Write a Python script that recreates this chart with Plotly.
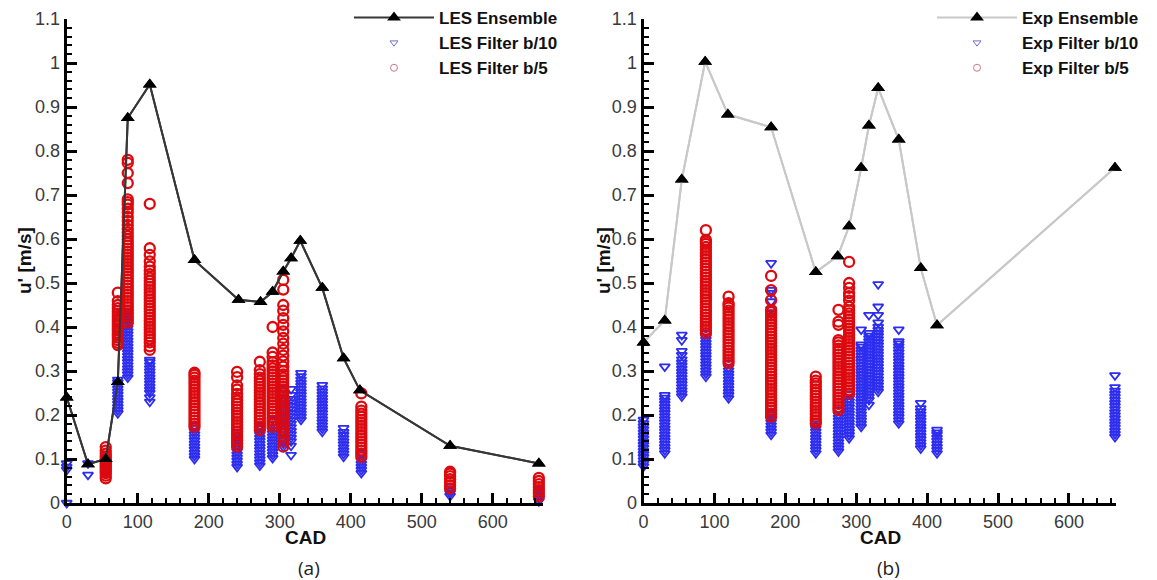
import plotly.graph_objects as go

# ---------------- data ----------------
les_ens_x = [0, 30, 55, 72, 86, 117, 180, 242, 273, 290, 305, 316, 329, 360, 390, 413, 540, 665]
les_ens_y = [0.24, 0.088, 0.10, 0.275, 0.875, 0.951, 0.552, 0.462, 0.457, 0.48, 0.526, 0.556, 0.596,
             0.489, 0.329, 0.256, 0.13, 0.09]

exp_ens_x = [0, 30, 54, 87, 119, 180, 243, 274, 290, 307, 318, 331, 360, 391, 414, 665]
exp_ens_y = [0.365, 0.415, 0.735, 1.003, 0.883, 0.854, 0.525, 0.561, 0.629, 0.762, 0.858, 0.943,
             0.826, 0.534, 0.404, 0.762]

les_b5_x = [55, 72, 86, 117, 180, 240, 272, 290, 305, 415, 540, 665]
les_b5_y = [
    [0.056, 0.062, 0.068, 0.072, 0.077, 0.081, 0.085, 0.089, 0.093, 0.097, 0.101, 0.106, 0.112, 0.119, 0.127],
    [0.359, 0.364, 0.370, 0.376, 0.381, 0.386, 0.392, 0.397, 0.402, 0.408, 0.413, 0.418, 0.424, 0.430,
     0.436, 0.443, 0.450, 0.459, 0.478],
    [0.410, 0.417, 0.424, 0.431, 0.438, 0.445, 0.452, 0.459, 0.466, 0.473, 0.480, 0.487, 0.494, 0.501,
     0.508, 0.515, 0.522, 0.529, 0.536, 0.543, 0.550, 0.557, 0.564, 0.571, 0.578, 0.585, 0.592, 0.599,
     0.607, 0.615, 0.623, 0.632, 0.641, 0.650, 0.660, 0.669, 0.678, 0.684, 0.690, 0.727, 0.750, 0.773, 0.780],
    [0.348, 0.356, 0.365, 0.372, 0.379, 0.386, 0.393, 0.400, 0.407, 0.414, 0.421, 0.428, 0.435, 0.442,
     0.449, 0.456, 0.463, 0.470, 0.477, 0.484, 0.491, 0.498, 0.505, 0.512, 0.520, 0.528, 0.537, 0.549,
     0.564, 0.579, 0.680],
    [0.173, 0.180, 0.187, 0.194, 0.201, 0.208, 0.215, 0.222, 0.229, 0.236, 0.243, 0.250, 0.257, 0.264,
     0.271, 0.278, 0.285, 0.291, 0.296],
    [0.128, 0.135, 0.142, 0.149, 0.156, 0.163, 0.170, 0.177, 0.184, 0.191, 0.198, 0.205, 0.212, 0.219,
     0.226, 0.233, 0.240, 0.248, 0.258, 0.267, 0.286, 0.298],
    [0.166, 0.173, 0.180, 0.187, 0.194, 0.201, 0.208, 0.215, 0.222, 0.229, 0.236, 0.243, 0.250, 0.257,
     0.264, 0.271, 0.278, 0.285, 0.293, 0.302, 0.321],
    [0.173, 0.180, 0.187, 0.194, 0.201, 0.208, 0.215, 0.222, 0.229, 0.236, 0.243, 0.250, 0.257, 0.264,
     0.271, 0.278, 0.285, 0.292, 0.299, 0.306, 0.313, 0.320, 0.332, 0.342, 0.400],
    [0.128, 0.140, 0.150, 0.158, 0.166, 0.173, 0.180, 0.187, 0.194, 0.201, 0.208, 0.215, 0.222, 0.229,
     0.236, 0.243, 0.250, 0.257, 0.264, 0.271, 0.278, 0.285, 0.292, 0.300, 0.310, 0.322, 0.335, 0.348,
     0.362, 0.375, 0.390, 0.405, 0.420, 0.437, 0.450, 0.485, 0.507],
    [0.105, 0.112, 0.119, 0.126, 0.133, 0.140, 0.147, 0.154, 0.161, 0.168, 0.175, 0.182, 0.189, 0.196,
     0.203, 0.210, 0.219, 0.249],
    [0.033, 0.040, 0.047, 0.054, 0.061, 0.067, 0.071],
    [0.015, 0.022, 0.029, 0.036, 0.043, 0.050, 0.057],
]

les_b10_x = [0, 30, 55, 72, 86, 117, 180, 240, 272, 290, 305, 316, 330, 360, 390, 415, 540, 665]
les_b10_y = [
    [0.0, 0.075, 0.082, 0.090],
    [0.064, 0.090],
    [0.070, 0.078, 0.086, 0.094, 0.102],
    [0.204, 0.211, 0.218, 0.225, 0.232, 0.239, 0.246, 0.253, 0.260, 0.267, 0.274, 0.280],
    [0.285, 0.292, 0.299, 0.306, 0.313, 0.320, 0.327, 0.334, 0.341, 0.348, 0.355, 0.362, 0.369, 0.376,
     0.383, 0.390, 0.397, 0.404, 0.411, 0.418, 0.426, 0.434, 0.442],
    [0.230, 0.240, 0.250, 0.257, 0.264, 0.271, 0.278, 0.285, 0.292, 0.299, 0.306, 0.313, 0.320, 0.325],
    [0.100, 0.107, 0.114, 0.121, 0.128, 0.135, 0.142, 0.149, 0.156, 0.163, 0.170, 0.175],
    [0.082, 0.089, 0.096, 0.103, 0.110, 0.117, 0.124, 0.131, 0.138, 0.145, 0.152, 0.159],
    [0.085, 0.092, 0.099, 0.106, 0.113, 0.120, 0.127, 0.134, 0.141, 0.148, 0.155, 0.162, 0.169, 0.175],
    [0.102, 0.109, 0.116, 0.123, 0.130, 0.137, 0.144, 0.151, 0.158, 0.165, 0.172, 0.180, 0.189],
    [0.128, 0.135, 0.142, 0.149, 0.156, 0.163, 0.170, 0.177, 0.184, 0.191, 0.198, 0.205, 0.212, 0.219,
     0.226, 0.233, 0.240, 0.248, 0.260],
    [0.109, 0.130, 0.140, 0.148, 0.156, 0.164, 0.172, 0.180, 0.188, 0.196, 0.204, 0.212, 0.220, 0.228,
     0.236, 0.245, 0.259],
    [0.189, 0.196, 0.203, 0.210, 0.217, 0.224, 0.231, 0.238, 0.245, 0.252, 0.259, 0.266, 0.273, 0.280,
     0.288, 0.295],
    [0.162, 0.169, 0.176, 0.183, 0.190, 0.197, 0.204, 0.211, 0.218, 0.225, 0.232, 0.239, 0.246, 0.253,
     0.260, 0.268],
    [0.105, 0.112, 0.119, 0.126, 0.133, 0.140, 0.147, 0.154, 0.161, 0.170],
    [0.068, 0.075, 0.082, 0.089, 0.096, 0.103, 0.110, 0.114],
    [0.016, 0.022, 0.028, 0.033],
    [0.004, 0.010, 0.017, 0.024, 0.030],
]

exp_b5_x = [88, 120, 180, 243, 275, 290]
exp_b5_y = [
    [0.386, 0.393, 0.400, 0.407, 0.414, 0.421, 0.428, 0.435, 0.442, 0.449, 0.456, 0.463, 0.470, 0.477,
     0.484, 0.491, 0.498, 0.505, 0.512, 0.519, 0.526, 0.533, 0.540, 0.547, 0.554, 0.561, 0.568, 0.575,
     0.582, 0.589, 0.594, 0.598, 0.620],
    [0.318, 0.325, 0.332, 0.339, 0.346, 0.353, 0.360, 0.367, 0.374, 0.381, 0.388, 0.395, 0.402, 0.409,
     0.416, 0.423, 0.430, 0.437, 0.444, 0.450, 0.454, 0.469],
    [0.196, 0.203, 0.210, 0.217, 0.224, 0.231, 0.238, 0.245, 0.252, 0.259, 0.266, 0.273, 0.280, 0.287,
     0.294, 0.301, 0.308, 0.315, 0.322, 0.329, 0.336, 0.343, 0.350, 0.357, 0.364, 0.371, 0.378, 0.385,
     0.392, 0.399, 0.406, 0.413, 0.420, 0.427, 0.434, 0.439, 0.461, 0.484, 0.516],
    [0.181, 0.188, 0.195, 0.202, 0.209, 0.216, 0.223, 0.230, 0.237, 0.244, 0.251, 0.258, 0.265, 0.272,
     0.278, 0.287],
    [0.211, 0.218, 0.225, 0.232, 0.239, 0.246, 0.253, 0.260, 0.267, 0.274, 0.281, 0.288, 0.295, 0.302,
     0.309, 0.316, 0.323, 0.330, 0.337, 0.344, 0.351, 0.358, 0.365, 0.370, 0.405, 0.412, 0.439],
    [0.249, 0.256, 0.263, 0.270, 0.277, 0.284, 0.291, 0.298, 0.305, 0.312, 0.319, 0.326, 0.333, 0.340,
     0.347, 0.354, 0.361, 0.368, 0.375, 0.382, 0.389, 0.396, 0.403, 0.410, 0.417, 0.424, 0.431, 0.438,
     0.446, 0.460, 0.470, 0.477, 0.489, 0.500, 0.548],
]

exp_b10_x = [0, 30, 54, 88, 120, 180, 243, 275, 290, 307, 318, 331, 360, 391, 414, 665]
exp_b10_y = [
    [0.083, 0.090, 0.097, 0.104, 0.111, 0.118, 0.125, 0.132, 0.139, 0.146, 0.153, 0.160, 0.167, 0.174,
     0.181, 0.189],
    [0.113, 0.120, 0.127, 0.134, 0.141, 0.148, 0.155, 0.162, 0.169, 0.176, 0.183, 0.190, 0.197, 0.204,
     0.211, 0.218, 0.225, 0.232, 0.239, 0.245, 0.310],
    [0.242, 0.249, 0.256, 0.263, 0.270, 0.277, 0.284, 0.291, 0.298, 0.305, 0.312, 0.319, 0.326, 0.336,
     0.345, 0.370, 0.382],
    [0.287, 0.294, 0.301, 0.308, 0.315, 0.322, 0.329, 0.336, 0.343, 0.350, 0.357, 0.364, 0.371, 0.378, 0.386],
    [0.238, 0.245, 0.252, 0.259, 0.266, 0.273, 0.280, 0.287, 0.294, 0.301, 0.308, 0.318],
    [0.155, 0.162, 0.169, 0.176, 0.183, 0.190, 0.197, 0.204, 0.430, 0.440, 0.458, 0.477, 0.484, 0.545],
    [0.113, 0.120, 0.127, 0.134, 0.141, 0.148, 0.155, 0.162, 0.169, 0.176, 0.181],
    [0.117, 0.124, 0.131, 0.138, 0.145, 0.152, 0.159, 0.166, 0.173, 0.180, 0.187, 0.194, 0.201, 0.211],
    [0.147, 0.154, 0.161, 0.168, 0.175, 0.182, 0.189, 0.196, 0.203, 0.210, 0.217, 0.224, 0.231, 0.238, 0.249],
    [0.173, 0.180, 0.187, 0.194, 0.201, 0.208, 0.215, 0.222, 0.229, 0.236, 0.243, 0.250, 0.257, 0.264,
     0.271, 0.278, 0.285, 0.292, 0.299, 0.306, 0.313, 0.320, 0.327, 0.334, 0.341, 0.348, 0.355, 0.360, 0.394],
    [0.223, 0.234, 0.241, 0.248, 0.255, 0.262, 0.269, 0.276, 0.283, 0.290, 0.297, 0.304, 0.311, 0.318,
     0.325, 0.332, 0.339, 0.346, 0.353, 0.360, 0.367, 0.374, 0.380, 0.386, 0.427],
    [0.253, 0.260, 0.267, 0.274, 0.281, 0.288, 0.295, 0.302, 0.309, 0.316, 0.323, 0.330, 0.337, 0.344,
     0.351, 0.358, 0.365, 0.372, 0.379, 0.386, 0.393, 0.400, 0.410, 0.427, 0.446, 0.497],
    [0.181, 0.188, 0.195, 0.202, 0.209, 0.216, 0.223, 0.230, 0.237, 0.244, 0.251, 0.258, 0.265, 0.272,
     0.279, 0.286, 0.293, 0.300, 0.307, 0.314, 0.321, 0.328, 0.335, 0.342, 0.349, 0.356, 0.362, 0.367, 0.394],
    [0.124, 0.131, 0.138, 0.145, 0.152, 0.159, 0.166, 0.173, 0.180, 0.187, 0.194, 0.201, 0.208, 0.215, 0.227],
    [0.113, 0.120, 0.127, 0.134, 0.141, 0.148, 0.155, 0.160, 0.166],
    [0.150, 0.157, 0.164, 0.171, 0.178, 0.185, 0.192, 0.199, 0.206, 0.213, 0.220, 0.227, 0.234, 0.241,
     0.248, 0.255, 0.263, 0.290],
]

x_tick_vals = [0, 100, 200, 300, 400, 500, 600]
x_tick_text = ["0", "100", "200", "300", "400", "500", "600"]
y_tick_vals = [0, 0.1, 0.2, 0.3, 0.4, 0.5, 0.6, 0.7, 0.8, 0.9, 1.0, 1.1]
y_tick_text = ["0", "0.1", "0.2", "0.3", "0.4", "0.5", "0.6", "0.7", "0.8", "0.9", "1", "1.1"]


def flatten(xs, ys):
    fx, fy = [], []
    for xv, col in zip(xs, ys):
        for yv in col:
            fx.append(xv)
            fy.append(yv)
    return fx, fy


BLUE = "rgb(45,45,240)"
RED = "rgb(220,10,15)"
FONT = "Liberation Sans, Arial, sans-serif"

fig = go.Figure()


def add_panel(xa, ya, lg, ens_x, ens_y, ens_color, b10_x, b10_y, b5_x, b5_y, names):
    bx, by = flatten(b10_x, b10_y)
    rx, ry = flatten(b5_x, b5_y)
    # legend entries
    fig.add_trace(go.Scatter(x=ens_x, y=ens_y, mode="lines+markers", name=names[0],
                             xaxis=xa, yaxis=ya, legend=lg, cliponaxis=False,
                             line=dict(color=ens_color, width=2),
                             marker=dict(symbol="triangle-up", size=12, color="black")))
    fig.add_trace(go.Scatter(x=[None], y=[None], mode="markers", name=names[1],
                             xaxis=xa, yaxis=ya, legend=lg,
                             marker=dict(symbol="triangle-down-open", size=7,
                                         color="rgb(110,110,200)", line=dict(width=1))))
    fig.add_trace(go.Scatter(x=[None], y=[None], mode="markers", name=names[2],
                             xaxis=xa, yaxis=ya, legend=lg,
                             marker=dict(symbol="circle-open", size=7,
                                         color="rgb(200,120,130)", line=dict(width=1))))
    # data
    fig.add_trace(go.Scatter(x=bx, y=by, mode="markers", showlegend=False,
                             xaxis=xa, yaxis=ya, cliponaxis=False,
                             marker=dict(symbol="triangle-down-open", size=9,
                                         color=BLUE, line=dict(width=1.8))))
    fig.add_trace(go.Scatter(x=rx, y=ry, mode="markers", showlegend=False,
                             xaxis=xa, yaxis=ya, cliponaxis=False,
                             marker=dict(symbol="circle-open", size=10,
                                         color=RED, line=dict(width=2.3))))
    # ensemble line on top (no legend)
    fig.add_trace(go.Scatter(x=ens_x, y=ens_y, mode="lines+markers", showlegend=False,
                             xaxis=xa, yaxis=ya, cliponaxis=False,
                             line=dict(color=ens_color, width=2),
                             marker=dict(symbol="triangle-up", size=12, color="black")))


add_panel("x", "y", "legend", les_ens_x, les_ens_y, "rgb(55,55,55)",
          les_b10_x, les_b10_y, les_b5_x, les_b5_y,
          ["LES Ensemble", "LES Filter b/10", "LES Filter b/5"])
add_panel("x2", "y2", "legend2", exp_ens_x, exp_ens_y, "rgb(200,200,200)",
          exp_b10_x, exp_b10_y, exp_b5_x, exp_b5_y,
          ["Exp Ensemble", "Exp Filter b/10", "Exp Filter b/5"])

# page body adds an 8 px margin: figure pixel = screen pixel - 8
OFF = 8
W, H = 1157 - OFF, 580 - OFF


def px(v):
    return (v - OFF) / W


def py(v):
    return (H - (v - OFF)) / H


def xaxis_cfg(dom, rng):
    return dict(domain=dom, range=rng, showline=True, linewidth=3, linecolor="black",
                mirror=False, showgrid=False, zeroline=False, automargin=False,
                ticks="inside", ticklen=10, tickwidth=3, tickcolor="black",
                tickvals=x_tick_vals, ticktext=x_tick_text,
                tickfont=dict(family=FONT, size=18, color="#3a3a3a"),
                minor=dict(ticks="inside", ticklen=5, tickwidth=1.5, tickcolor="black", dtick=20,
                           showgrid=False))


def yaxis_cfg(dom, anchor):
    return dict(domain=dom, range=[0, 1.1], anchor=anchor, showline=True, linewidth=3,
                linecolor="black", mirror=False, showgrid=False, zeroline=False, automargin=False,
                ticks="inside", ticklen=10, tickwidth=3, tickcolor="black",
                tickvals=y_tick_vals, ticktext=y_tick_text,
                tickfont=dict(family=FONT, size=18, color="#3a3a3a"),
                minor=dict(ticks="inside", ticklen=5, tickwidth=1.5, tickcolor="black", dtick=0.02,
                           showgrid=False))


ydom = [py(503), py(19)]
title_font = dict(family=FONT, size=19, color="#111", weight="bold")
cap_font = dict(family="Open Sans", size=19, color="#222")
annotations = []
for cx, ylab_x, cap_x, cap in [(305, 24, 309, "(a)"), (880, 603, 888, "(b)")]:
    annotations.append(dict(text="CAD", x=px(cx), y=py(537), xref="paper", yref="paper",
                            xanchor="center", yanchor="middle", showarrow=False, font=title_font))
    annotations.append(dict(text="u' [m/s]", x=px(ylab_x), y=py(261), xref="paper", yref="paper",
                            xanchor="center", yanchor="middle", showarrow=False, textangle=-90,
                            font=title_font))
    annotations.append(dict(text=cap, x=px(cap_x), y=py(568),
                            xref="paper", yref="paper", xanchor="center", yanchor="middle",
                            showarrow=False, font=cap_font))

legend_common = dict(xanchor="left", yanchor="top", bgcolor="rgba(0,0,0,0)",
                     font=dict(family=FONT, size=17, color="#111", weight="bold"),
                     itemwidth=80, tracegroupgap=0)
fig.update_layout(
    width=W, height=H, margin=dict(l=0, r=0, t=0, b=0, autoexpand=False),
    paper_bgcolor="white", plot_bgcolor="white",
    xaxis=xaxis_cfg([px(66.7), px(543.1)], [0, 671]),
    yaxis=yaxis_cfg(ydom, "x"),
    xaxis2=dict(xaxis_cfg([px(643.5), px(1116.4)], [0, 667]), anchor="y2"),
    yaxis2=yaxis_cfg(ydom, "x2"),
    legend=dict(legend_common, x=px(349), y=py(0)),
    legend2=dict(legend_common, x=px(932), y=py(0)),
    annotations=annotations,
)

fig.write_html("out.html")
